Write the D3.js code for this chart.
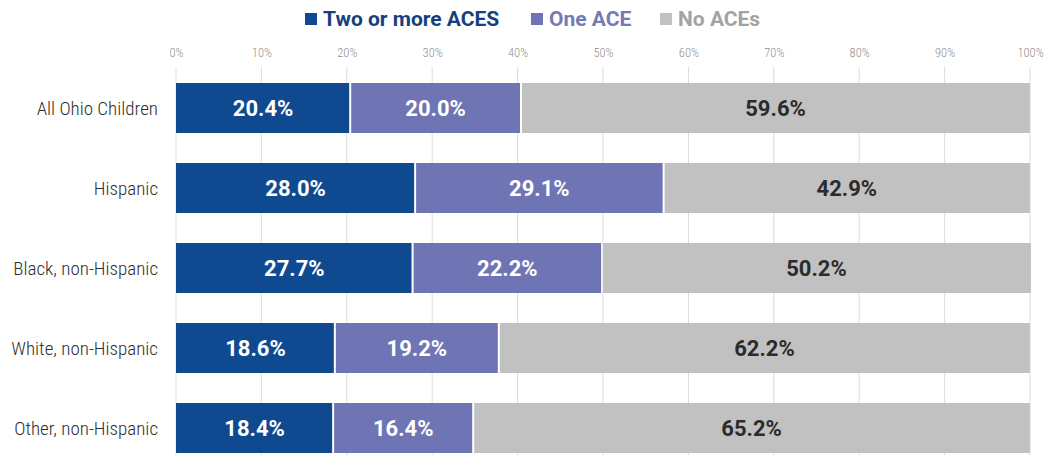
<!DOCTYPE html>
<html>
<head>
<meta charset="utf-8">
<script src="https://cdn.jsdelivr.net/npm/d3@7"></script>
<style>
  html, body { margin: 0; padding: 0; background: #fff; }
  svg { display: block; }
  .cond { font-family: "Roboto Condensed", "Liberation Sans Narrow", "DejaVu Sans Condensed", sans-serif; }
  .bold { font-family: Roboto, "Liberation Sans", sans-serif; font-weight: bold; }
</style>
</head>
<body>
<svg id="chart" width="1045" height="455"></svg>
<script>
// Share of Ohio children by number of adverse childhood experiences (ACEs)
const categories = ["All Ohio Children", "Hispanic", "Black, non-Hispanic", "White, non-Hispanic", "Other, non-Hispanic"];
const twoOrMore = [20.4, 28.0, 27.7, 18.6, 18.4];
const oneAce    = [20.0, 29.1, 22.2, 19.2, 16.4];
const noAces    = [59.6, 42.9, 50.2, 62.2, 65.2];
const seriesNames = ["Two or more ACES", "One ACE", "No ACEs"];
const tickValues = [0, 10, 20, 30, 40, 50, 60, 70, 80, 90, 100];

const colors = ["#0f4a91", "#6e74b4", "#c1c1c1"];
const legendText = ["#173f7d", "#7579b6", "#a3a3a3"];
const labelColors = ["#ffffff", "#ffffff", "#2b2b2b"];

const W = 1045, H = 455;
const svg = d3.select("#chart");

const x = d3.scaleLinear().domain([0, 100]).range([176, 1030]);
const y = d3.scaleBand().domain(categories).range([68, 468])
  .paddingInner(0.375).paddingOuter(0.1875);

// Gridlines
svg.append("g").selectAll("line").data(tickValues).join("line")
  .attr("x1", d => x(d)).attr("x2", d => x(d))
  .attr("y1", 67).attr("y2", H)
  .attr("stroke", "#dcdcdc").attr("stroke-width", 1);

// Top axis labels
const axis = d3.axisTop(x).tickValues(tickValues).tickSize(0).tickPadding(0)
  .tickFormat(d => d + "%");
const ax = svg.append("g").attr("transform", "translate(0,57)").call(axis);
ax.select(".domain").remove();
ax.selectAll("text")
  .attr("class", "cond")
  .attr("font-size", 12.5).attr("font-weight", 300).attr("fill", "#8f8f8f").attr("font-family", null);

// Stacked data
const rows = categories.map((c, i) => ({ cat: c, vals: [twoOrMore[i], oneAce[i], noAces[i]] }));
const stack = d3.stack().keys([0, 1, 2]).value((d, k) => d.vals[k]);
const layers = stack(rows);

const gBars = svg.append("g");
layers.forEach((layer, k) => {
  const g = gBars.append("g");
  g.selectAll("rect").data(layer).join("rect")
    .attr("x", d => x(d[0]) + (k > 0 ? 1 : 0))
    .attr("width", d => x(d[1]) - x(d[0]) - (k > 0 ? 1 : 0) - (k < 2 ? 1 : 0))
    .attr("y", d => y(d.data.cat))
    .attr("height", y.bandwidth())
    .attr("fill", colors[k]);
  g.selectAll("text").data(layer).join("text")
    .attr("class", "bold")
    .attr("x", d => (x(d[0]) + x(d[1])) / 2)
    .attr("y", d => y(d.data.cat) + y.bandwidth() / 2)
    .attr("dy", "0.36em")
    .attr("text-anchor", "middle")
    .attr("font-size", 22)
    .attr("fill", labelColors[k])
    .text(d => d.data.vals[k].toFixed(1) + "%");
});

// Category labels
svg.append("g").selectAll("text").data(categories).join("text")
  .attr("class", "cond")
  .attr("x", 158)
  .attr("y", d => y(d) + y.bandwidth() / 2)
  .attr("dy", "0.36em")
  .attr("text-anchor", "end")
  .attr("font-size", 19).attr("font-weight", 300).attr("fill", "#2e2e2e")
  .text(d => d);

// Legend
const legendX = [305, 531, 660];
const lg = svg.append("g");
seriesNames.forEach((name, k) => {
  lg.append("rect").attr("x", legendX[k]).attr("y", 13).attr("width", 12).attr("height", 12)
    .attr("fill", colors[k]);
  lg.append("text").attr("class", "bold")
    .attr("x", legendX[k] + 18).attr("y", 18.5).attr("dy", "0.36em")
    .attr("font-size", 21)
    .attr("fill", legendText[k]).text(name);
});
</script>
</body>
</html>
